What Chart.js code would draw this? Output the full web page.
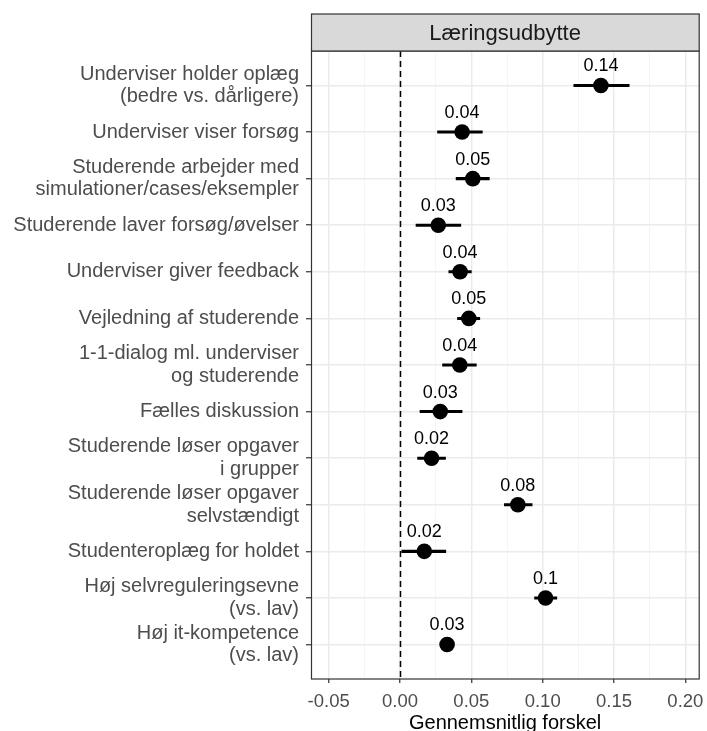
<!DOCTYPE html>
<html>
<head>
<meta charset="utf-8">
<script src="https://cdn.jsdelivr.net/npm/chart.js@4.4.0/dist/chart.umd.min.js"></script>
<style>
html, body { margin: 0; padding: 0; background: #fff; }
canvas { display: block; }
</style>
</head>
<body>
<canvas id="forestChart" width="707" height="731"></canvas>
<script>
// Kategorier (oppefra og ned)
const categories = [
    ['Underviser holder oplæg', '(bedre vs. dårligere)'],
    'Underviser viser forsøg',
    ['Studerende arbejder med', 'simulationer/cases/eksempler'],
    'Studerende laver forsøg/øvelser',
    'Underviser giver feedback',
    'Vejledning af studerende',
    ['1-1-dialog ml. underviser', 'og studerende'],
    'Fælles diskussion',
    ['Studerende løser opgaver', 'i grupper'],
    ['Studerende løser opgaver', 'selvstændigt'],
    'Studenteroplæg for holdet',
    ['Høj selvreguleringsevne', '(vs. lav)'],
    ['Høj it-kompetence', '(vs. lav)']
];

// Estimater og konfidensintervaller
const estimates = [0.1408, 0.0435, 0.0510, 0.0268, 0.0421, 0.0482, 0.0419, 0.0282, 0.0221, 0.0826, 0.0170, 0.1020, 0.0330];
const lower = [0.1218, 0.0263, 0.0393, 0.0112, 0.0342, 0.0403, 0.0298, 0.0140, 0.0123, 0.0731, 0.0012, 0.0943, 0.0290];
const upper = [0.1606, 0.0577, 0.0626, 0.0426, 0.0500, 0.0559, 0.0535, 0.0435, 0.0319, 0.0926, 0.0321, 0.1099, 0.0370];
const valueLabels = ['0.14', '0.04', '0.05', '0.03', '0.04', '0.05', '0.04', '0.03', '0.02', '0.08', '0.02', '0.1', '0.03'];

// Akser
const xTicks = [-0.05, 0, 0.05, 0.10, 0.15, 0.20];
const xMinorTicks = [-0.025, 0.025, 0.075, 0.125, 0.175];
const facetLabel = 'Læringsudbytte';
const xTitle = 'Gennemsnitlig forskel';

Chart.defaults.font.family = '"Liberation Sans", Arial, sans-serif';

const isMajor = (v) => xTicks.some(t => Math.abs(t - v) < 1e-9);

// Facet-boks, panelramme og nul-linje
const panelPlugin = {
    id: 'panel',
    beforeDatasetsDraw(chart) {
        const { ctx, chartArea: a, scales } = chart;
        const x0 = Math.round(scales.x.getPixelForValue(0)) + 0.5;
        ctx.save();
        ctx.strokeStyle = '#000';
        ctx.lineWidth = 1.5;
        ctx.setLineDash([6, 4]);
        ctx.beginPath();
        ctx.moveTo(x0, a.top);
        ctx.lineTo(x0, a.bottom);
        ctx.stroke();
        ctx.restore();
    },
    afterDraw(chart) {
        const { ctx, chartArea: a } = chart;
        ctx.save();
        // ramme
        ctx.strokeStyle = '#333';
        ctx.lineWidth = 1.2;
        ctx.strokeRect(a.left + 0.5, a.top, a.right - a.left - 0.5, a.bottom - a.top);
        // strip
        const stripTop = 14;
        ctx.fillStyle = '#d9d9d9';
        ctx.fillRect(a.left + 0.5, stripTop, a.right - a.left - 0.5, a.top - stripTop);
        ctx.strokeRect(a.left + 0.5, stripTop, a.right - a.left - 0.5, a.top - stripTop);
        ctx.fillStyle = '#1a1a1a';
        ctx.font = '22px "Liberation Sans", Arial, sans-serif';
        ctx.textAlign = 'center';
        ctx.textBaseline = 'middle';
        ctx.fillText(facetLabel, (a.left + a.right) / 2, (stripTop + a.top) / 2 + 1);
        ctx.restore();
    }
};

// Værdier over punkterne
const labelPlugin = {
    id: 'valueLabels',
    afterDatasetsDraw(chart) {
        const { ctx } = chart;
        const meta = chart.getDatasetMeta(0);
        ctx.save();
        ctx.fillStyle = '#000';
        ctx.font = '18px "Liberation Sans", Arial, sans-serif';
        ctx.textAlign = 'center';
        ctx.textBaseline = 'middle';
        meta.data.forEach((pt, i) => {
            ctx.fillText(valueLabels[i], pt.x, pt.y - 19);
        });
        ctx.restore();
    }
};

const ctx = document.getElementById('forestChart').getContext('2d');
const forestChart = new Chart(ctx, {
    type: 'scatter',
    data: {
        datasets: [{
            type: 'scatter',
            data: categories.map((_, i) => ({ x: estimates[i], y: i })),
            backgroundColor: '#000',
            borderColor: '#000',
            borderWidth: 0,
            pointRadius: 7.8,
            pointHoverRadius: 7.8
        }, {
            type: 'bar',
            indexAxis: 'y',
            data: categories.map((_, i) => ({ y: i, x: [lower[i], upper[i]] })),
            backgroundColor: '#000',
            borderWidth: 0,
            barThickness: 2.4
        }]
    },
    options: {
        responsive: false,
        animation: false,
        events: [],
        layout: { padding: { top: 51, right: 7, left: 0, bottom: 0 } },
        plugins: {
            legend: { display: false },
            tooltip: { enabled: false }
        },
        scales: {
            x: {
                type: 'linear',
                position: 'bottom',
                offset: false,
                min: -0.0624,
                max: 0.2097,
                afterBuildTicks: (scale) => {
                    scale.ticks = [...xTicks, ...xMinorTicks].sort((a, b) => a - b).map(v => ({ value: v }));
                },
                afterFit: (scale) => {
                    scale.height = 52;
                    scale.paddingLeft = 0;
                    scale.paddingRight = 0;
                },
                border: { display: false },
                grid: {
                    offset: false,
                    color: (c) => isMajor(c.tick.value) ? '#ebebeb' : '#f3f3f3',
                    lineWidth: (c) => isMajor(c.tick.value) ? 1.5 : 0.8,
                    tickColor: (c) => isMajor(c.tick.value) ? '#333' : 'rgba(0,0,0,0)',
                    tickWidth: 1.2,
                    tickLength: 4
                },
                ticks: {
                    autoSkip: false,
                    maxRotation: 0,
                    padding: 8,
                    color: '#4d4d4d',
                    font: { size: 18.5 },
                    callback: (v) => isMajor(v) ? v.toFixed(2) : ''
                },
                title: {
                    display: true,
                    text: xTitle,
                    color: '#000',
                    font: { size: 20, lineHeight: 0.95 },
                    padding: { top: 0, bottom: -2 }
                }
            },
            y: {
                type: 'linear',
                reverse: true,
                offset: false,
                min: -0.74,
                max: 12.74,
                afterBuildTicks: (scale) => {
                    scale.ticks = categories.map((_, i) => ({ value: i }));
                },
                afterFit: (scale) => {
                    scale.width = 311;
                    scale.paddingTop = 0;
                    scale.paddingBottom = 0;
                },
                border: { display: false },
                grid: {
                    offset: false,
                    color: '#ebebeb',
                    lineWidth: 1.5,
                    tickColor: '#333',
                    tickWidth: 1.2,
                    tickLength: 5
                },
                ticks: {
                    autoSkip: false,
                    padding: 7,
                    color: '#4d4d4d',
                    font: { size: 20, lineHeight: 1.13 },
                    callback: (v) => categories[v]
                }
            }
        }
    },
    plugins: [panelPlugin, labelPlugin]
});
</script>
</body>
</html>
